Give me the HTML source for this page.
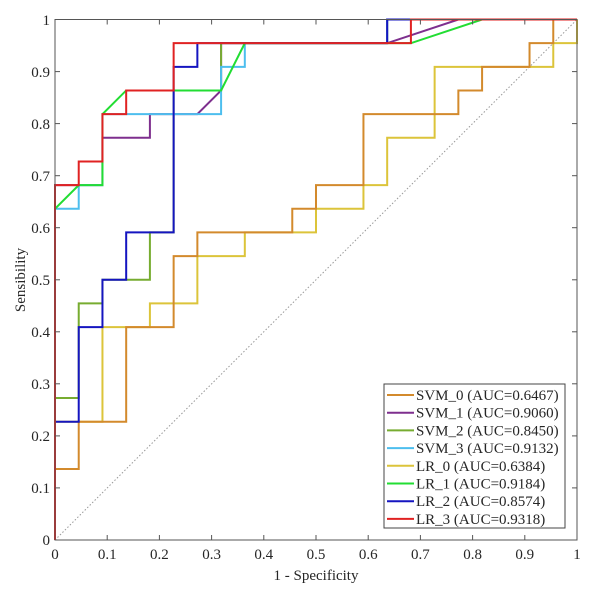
<!DOCTYPE html>
<html><head><style>body{margin:0;background:#fff}svg{display:block}text{font-family:"Liberation Serif",serif;font-size:15px;fill:#262626}</style></head><body>
<svg width="600" height="590" xmlns="http://www.w3.org/2000/svg">
<rect width="600" height="590" fill="#fff"/>
<line x1="55" y1="540" x2="577" y2="19.5" stroke="#999" stroke-width="1" stroke-dasharray="1.5,2"/>
<g transform="translate(55,540) scale(23.727,-23.659)" fill="none" stroke-width="2" stroke-linejoin="miter">
<polyline vector-effect="non-scaling-stroke" stroke="#dcc43a" points="0,0 0,5 2,5 2,9 4,9 4,10 6,10 6,12 8,12 8,13 11,13 11,14 13,14 13,15 14,15 14,17 16,17 16,20 21,20 21,21 22,21 22,22"/>
<polyline vector-effect="non-scaling-stroke" stroke="#d38a2c" points="0,0 0,3 1,3 1,5 3,5 3,9 5,9 5,12 6,12 6,13 10,13 10,14 11,14 11,15 13,15 13,18 17,18 17,19 18,19 18,20 20,20 20,21 21,21 21,22 22,22"/>
<polyline vector-effect="non-scaling-stroke" stroke="#7e2f8e" points="0,0 0,15 2,15 2,17 4,17 4,18 6,18 7,19 7,21 14,21 17,22 22,22"/>
<polyline vector-effect="non-scaling-stroke" stroke="#77ac30" points="0,0 0,6 1,6 1,10 2,10 2,11 4,11 4,13 5,13 5,19 7,19 7,21 14,21 14,22 22,22"/>
<polyline vector-effect="non-scaling-stroke" stroke="#4dbeee" points="0,0 0,14 1,14 1,15 2,15 2,18 7,18 7,20 8,20 8,21 14,21 14,22 22,22"/>
<polyline vector-effect="non-scaling-stroke" stroke="#22dd33" points="0,0 0,14 1,15 2,15 2,18 3,19 7,19 8,21 15,21 18,22 22,22"/>
<polyline vector-effect="non-scaling-stroke" stroke="#1515c0" points="0,0 0,5 1,5 1,9 2,9 2,11 3,11 3,13 5,13 5,20 6,20 6,21 14,21 14,22 22,22"/>
<polyline vector-effect="non-scaling-stroke" stroke="#e02222" points="0,0 0,15 1,15 1,16 2,16 2,18 3,18 3,19 5,19 5,21 15,21 15,22 22,22"/>
</g>
<rect x="55" y="19.5" width="522" height="520.5" fill="none" stroke="#555" stroke-width="1"/>
<g stroke="#555" stroke-width="1">
<line x1="107.2" y1="540" x2="107.2" y2="535"/><line x1="159.4" y1="540" x2="159.4" y2="535"/><line x1="211.6" y1="540" x2="211.6" y2="535"/><line x1="263.8" y1="540" x2="263.8" y2="535"/><line x1="316" y1="540" x2="316" y2="535"/><line x1="368.2" y1="540" x2="368.2" y2="535"/><line x1="420.4" y1="540" x2="420.4" y2="535"/><line x1="472.6" y1="540" x2="472.6" y2="535"/><line x1="524.8" y1="540" x2="524.8" y2="535"/>
<line x1="107.2" y1="19.5" x2="107.2" y2="24.5"/><line x1="159.4" y1="19.5" x2="159.4" y2="24.5"/><line x1="211.6" y1="19.5" x2="211.6" y2="24.5"/><line x1="263.8" y1="19.5" x2="263.8" y2="24.5"/><line x1="316" y1="19.5" x2="316" y2="24.5"/><line x1="368.2" y1="19.5" x2="368.2" y2="24.5"/><line x1="420.4" y1="19.5" x2="420.4" y2="24.5"/><line x1="472.6" y1="19.5" x2="472.6" y2="24.5"/><line x1="524.8" y1="19.5" x2="524.8" y2="24.5"/>
<line x1="55" y1="487.9" x2="60" y2="487.9"/><line x1="55" y1="435.9" x2="60" y2="435.9"/><line x1="55" y1="383.8" x2="60" y2="383.8"/><line x1="55" y1="331.8" x2="60" y2="331.8"/><line x1="55" y1="279.8" x2="60" y2="279.8"/><line x1="55" y1="227.7" x2="60" y2="227.7"/><line x1="55" y1="175.7" x2="60" y2="175.7"/><line x1="55" y1="123.6" x2="60" y2="123.6"/><line x1="55" y1="71.6" x2="60" y2="71.6"/>
<line x1="577" y1="487.9" x2="572" y2="487.9"/><line x1="577" y1="435.9" x2="572" y2="435.9"/><line x1="577" y1="383.8" x2="572" y2="383.8"/><line x1="577" y1="331.8" x2="572" y2="331.8"/><line x1="577" y1="279.8" x2="572" y2="279.8"/><line x1="577" y1="227.7" x2="572" y2="227.7"/><line x1="577" y1="175.7" x2="572" y2="175.7"/><line x1="577" y1="123.6" x2="572" y2="123.6"/><line x1="577" y1="71.6" x2="572" y2="71.6"/>
</g>
<g text-anchor="middle">
<text x="55" y="559">0</text><text x="107.2" y="559">0.1</text><text x="159.4" y="559">0.2</text><text x="211.6" y="559">0.3</text><text x="263.8" y="559">0.4</text><text x="316" y="559">0.5</text><text x="368.2" y="559">0.6</text><text x="420.4" y="559">0.7</text><text x="472.6" y="559">0.8</text><text x="524.8" y="559">0.9</text><text x="577" y="559">1</text>
<text x="316" y="580">1 - Specificity</text>
<text transform="translate(25,280) rotate(-90)">Sensibility</text>
</g>
<g text-anchor="end">
<text x="50" y="545">0</text><text x="50" y="493">0.1</text><text x="50" y="441">0.2</text><text x="50" y="389">0.3</text><text x="50" y="337">0.4</text><text x="50" y="285">0.5</text><text x="50" y="233">0.6</text><text x="50" y="181">0.7</text><text x="50" y="129">0.8</text><text x="50" y="77">0.9</text><text x="50" y="25">1</text>
</g>
<rect x="384" y="384" width="181" height="144" fill="#fff" stroke="#444" stroke-width="1"/>
<g stroke-width="2">
<line x1="387" y1="395" x2="414" y2="395" stroke="#d38a2c"/>
<line x1="387" y1="412.7" x2="414" y2="412.7" stroke="#7e2f8e"/>
<line x1="387" y1="430.4" x2="414" y2="430.4" stroke="#77ac30"/>
<line x1="387" y1="448.1" x2="414" y2="448.1" stroke="#4dbeee"/>
<line x1="387" y1="465.8" x2="414" y2="465.8" stroke="#dcc43a"/>
<line x1="387" y1="483.5" x2="414" y2="483.5" stroke="#22dd33"/>
<line x1="387" y1="501.2" x2="414" y2="501.2" stroke="#1515c0"/>
<line x1="387" y1="518.9" x2="414" y2="518.9" stroke="#e02222"/>
</g>
<g>
<text x="416" y="400">SVM_0 (AUC=0.6467)</text>
<text x="416" y="417.7">SVM_1 (AUC=0.9060)</text>
<text x="416" y="435.4">SVM_2  (AUC=0.8450)</text>
<text x="416" y="453.1">SVM_3 (AUC=0.9132)</text>
<text x="416" y="470.8">LR_0 (AUC=0.6384)</text>
<text x="416" y="488.5">LR_1 (AUC=0.9184)</text>
<text x="416" y="506.2">LR_2 (AUC=0.8574)</text>
<text x="416" y="523.9">LR_3 (AUC=0.9318)</text>
</g>
</svg>
</body></html>
